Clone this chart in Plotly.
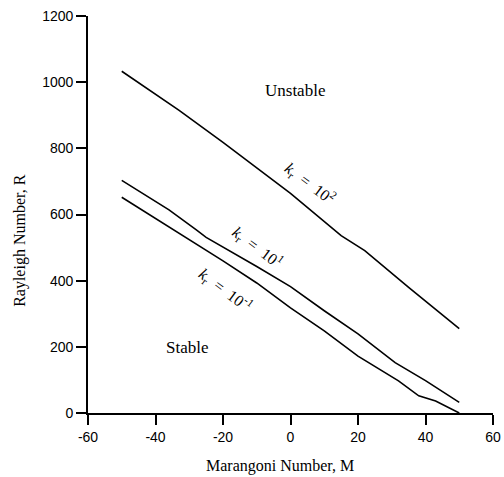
import plotly.graph_objects as go

# Marangoni number M (x) and Rayleigh number R (y) for each curve
m_k2 = [-50, -33, -20, -3, 0, 15, 22, 35, 50]
r_k2 = [1033, 915, 818, 688, 664, 536, 491, 380, 255]

m_k1 = [-50, -36, -28, -25, -10, 0, 10, 20, 31, 40, 50]
r_k1 = [703, 614, 554, 531, 443, 382, 309, 239, 152, 98, 32]

m_km1 = [-50, -36, -20, -10, 0, 10, 20, 32, 38, 43, 50]
r_km1 = [652, 562, 460, 393, 318, 248, 172, 97, 52, 36, 0]

x_ticks = [-60, -40, -20, 0, 20, 40, 60]
x_tick_labels = ["-60", "-40", "-20", "0", "20", "40", "60"]
y_ticks = [0, 200, 400, 600, 800, 1000, 1200]
y_tick_labels = ["0", "200", "400", "600", "800", "1000", "1200"]

serif = "Liberation Serif, Times New Roman, serif"
sans = "Liberation Sans, Arial, sans-serif"

fig = go.Figure()
for mx, ry in [(m_k2, r_k2), (m_k1, r_k1), (m_km1, r_km1)]:
    fig.add_trace(go.Scatter(x=mx, y=ry, mode="lines",
                             line=dict(color="black", width=1.6),
                             showlegend=False, hoverinfo="skip"))

# line labels: (M, R, text, angle)
labels = [
    (5.6, 694, "<i>k</i><sub>r</sub>  =  10<sup>2</sup>", 37),
    (-9.8, 503, "<i>k</i><sub>r</sub>  =  10<sup>1</sup>", 37),
    (-19.3, 373, "<i>k</i><sub>r</sub>  =  10<sup>-1</sup>", 37),
]
for mx, ry, txt, ang in labels:
    fig.add_annotation(x=mx, y=ry, text=txt, showarrow=False, textangle=ang,
                       font=dict(family=serif, size=16, color="black"))

fig.add_annotation(x=1.2, y=976, text="Unstable", showarrow=False,
                   font=dict(family=serif, size=17, color="black"))
fig.add_annotation(x=-30.6, y=197, text="Stable", showarrow=False,
                   font=dict(family=serif, size=17, color="black"))

# axis titles
fig.add_annotation(xref="paper", yref="paper", x=0.474, y=-0.134,
                   text="Marangoni Number, M", showarrow=False,
                   xanchor="center", yanchor="middle",
                   font=dict(family=serif, size=16, color="black"))
fig.add_annotation(xref="paper", yref="paper", x=-0.168, y=0.436,
                   text="Rayleigh Number, R", showarrow=False, textangle=-90,
                   xanchor="center", yanchor="middle",
                   font=dict(family=serif, size=16, color="black"))

axis_common = dict(showline=True, linecolor="black", linewidth=1.6,
                   ticks="outside", ticklen=10, tickwidth=1.5, tickcolor="black",
                   showgrid=False, zeroline=False, automargin=False,
                   tickfont=dict(family=sans, size=14, color="black"))

fig.update_xaxes(range=[-60, 60], tickvals=x_ticks, ticktext=x_tick_labels,
                 **axis_common)
fig.update_yaxes(range=[0, 1200], tickvals=y_ticks, ticktext=y_tick_labels,
                 **axis_common)

fig.update_layout(width=504, height=477,
                  margin=dict(l=88, r=11, t=16, b=64),
                  plot_bgcolor="white", paper_bgcolor="white")

fig.write_html("out.html")
